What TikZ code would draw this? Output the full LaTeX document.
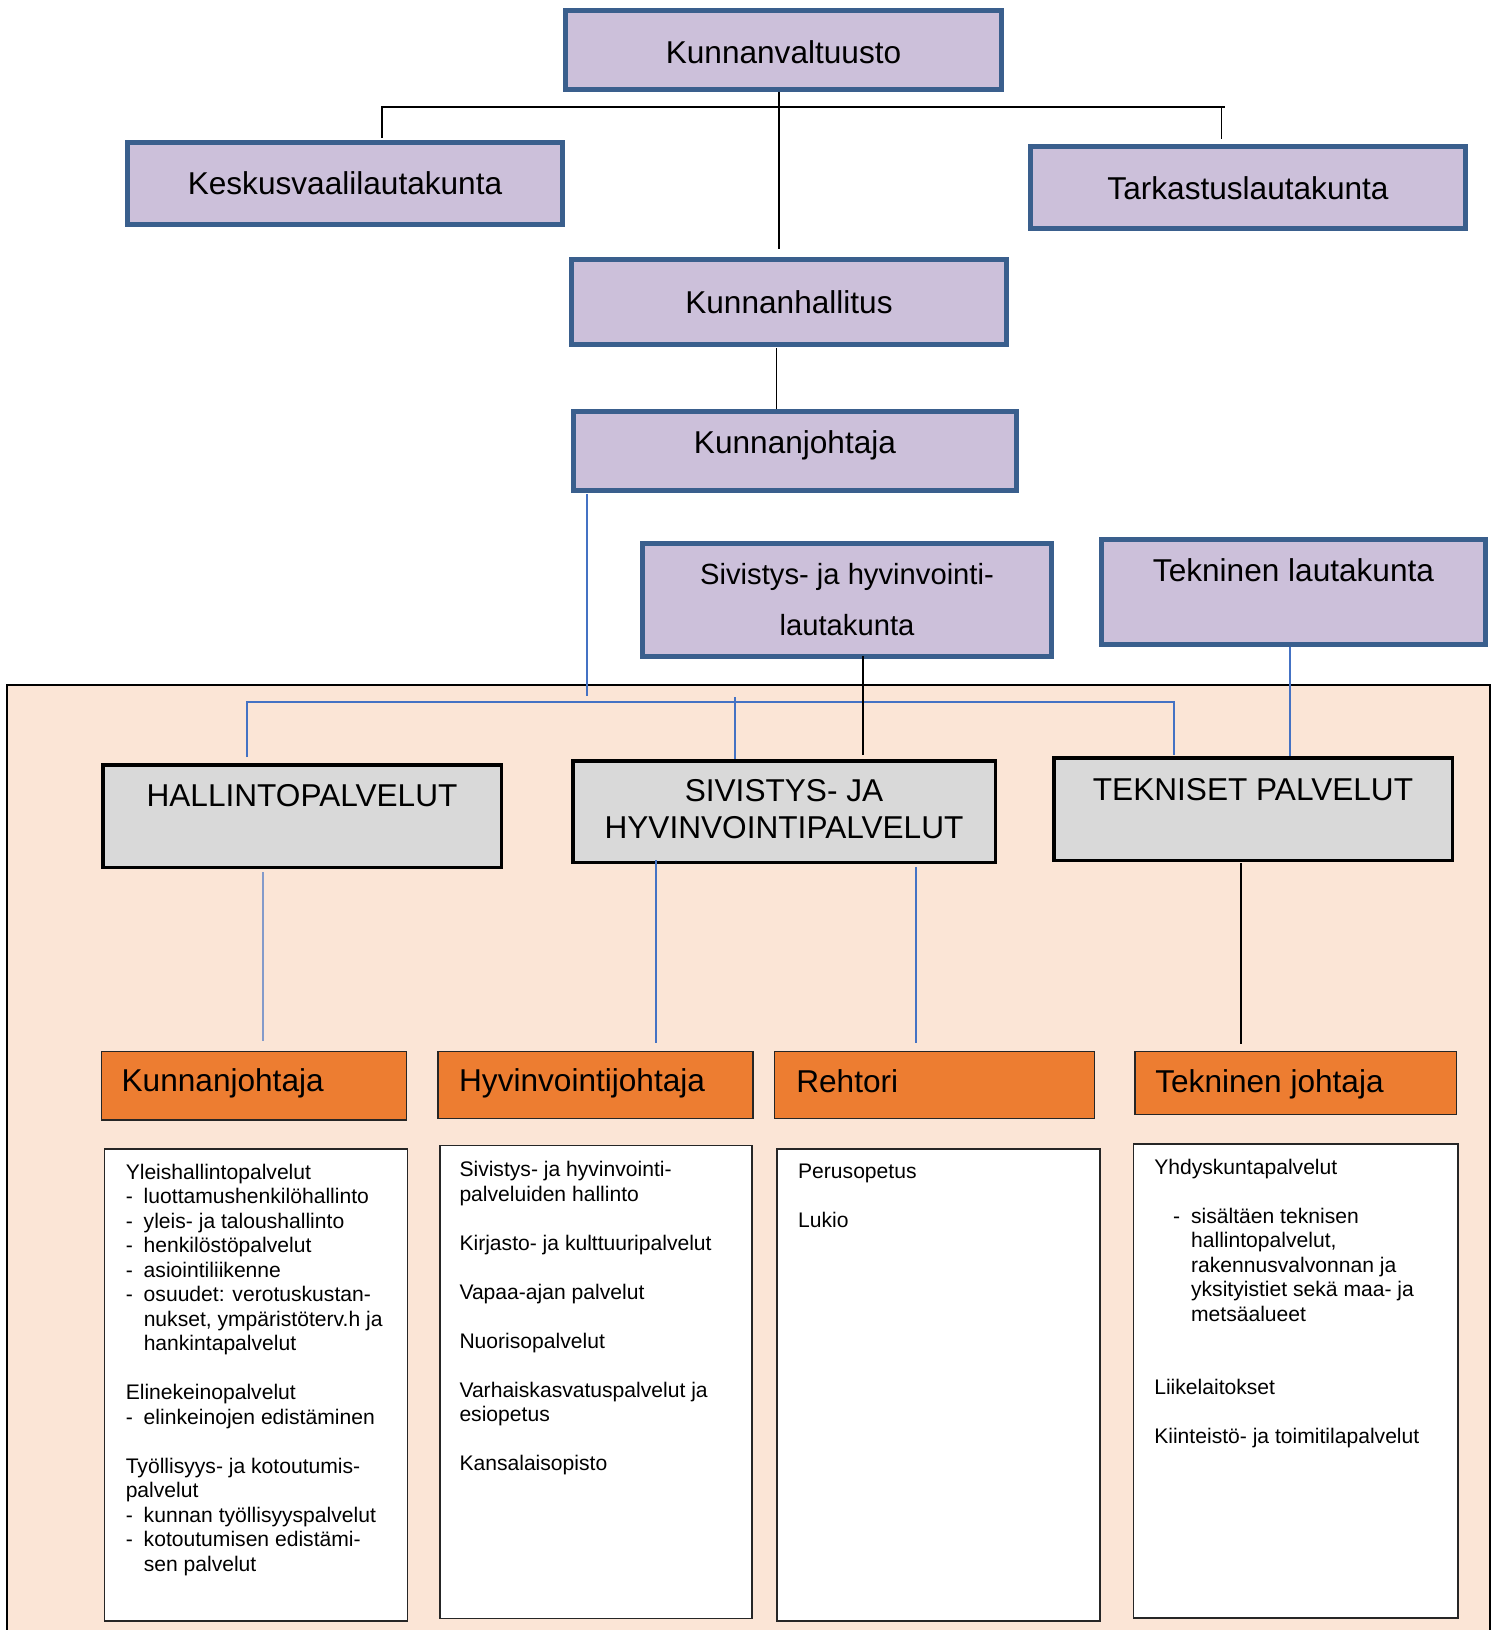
\documentclass[tikz,border=0pt]{standalone}
\usepackage{fontspec}
\setmainfont{Liberation Sans}
\usetikzlibrary{calc}
\definecolor{purp}{HTML}{CCC0DA}
\definecolor{purpb}{HTML}{3A5F8D}
\definecolor{grayf}{HTML}{D9D9D9}
\definecolor{orng}{HTML}{ED7D31}
\definecolor{peach}{HTML}{FBE5D6}
\definecolor{lblue}{HTML}{4472C4}
\newcommand\bigfont{\fontsize{15.8}{18}\selectfont}
\newcommand\smallfont{\fontsize{10.55}{12.25}\selectfont}
\newcommand\ditem{\makebox[9pt][l]{-}}
\newcommand\dcont{\hspace*{9pt}}
\newcommand\blankline{\\[12.25pt]}
\begin{document}
\begin{tikzpicture}[x=0.5pt,y=-0.5pt,
  pbox/.style={draw=purpb, line width=2.5pt, fill=purp, inner sep=0pt},
  gbox/.style={draw=black, line width=1.75pt, fill=grayf, inner sep=0pt},
  obox/.style={draw=black!85, line width=0.75pt, fill=orng, inner sep=0pt},
  wbox/.style={draw=black!85, line width=0.75pt, fill=white, inner sep=0pt},
  bigtxt/.style={inner sep=0pt, font=\bigfont, anchor=base},
  listtxt/.style={inner sep=0pt, anchor=base west},
  kline/.style={draw=black, line width=0.6pt},
  bline/.style={draw=lblue, line width=0.6pt}]
\useasboundingbox (0,0) rectangle (1499,1630);
\fill[white] (0,0) rectangle (1499,1630);
% peach background
\filldraw[fill=peach, draw=black, line width=0.6pt] (7,685) rectangle (1490,1645);

% purple boxes
\node[pbox, minimum width=218pt, minimum height=39.2pt] (kv) at (783.5,50) {};
\node[pbox, minimum width=217.5pt, minimum height=41pt] (kesk) at (345,183.5) {};
\node[pbox, minimum width=217.5pt, minimum height=41pt] (tark) at (1248,187.5) {};
\node[pbox, minimum width=217.5pt, minimum height=42.5pt] (kh) at (789,302) {};
\node[pbox, minimum width=221.5pt, minimum height=39.5pt] (kj) at (795,451) {};
\node[pbox, minimum width=204.5pt, minimum height=56.5pt] (sivl) at (847,600) {};
\node[pbox, minimum width=192pt, minimum height=52.5pt] (tekl) at (1293.5,592) {};

\node[bigtxt] (kvt) at ($(kv.center)+(0,13.3)$) {Kunnanvaltuusto};
\node[bigtxt] (keskt) at ($(kesk.center)+(0,10.8)$) {Keskusvaalilautakunta};
\node[bigtxt] (tarkt) at ($(tark.center)+(0,11.5)$) {Tarkastuslautakunta};
\node[bigtxt] (kht) at ($(kh.center)+(0,11.3)$) {Kunnanhallitus};
\node[bigtxt] (kjt) at ($(kj.center)+(0,2.3)$) {Kunnanjohtaja};
\node[inner sep=0pt, anchor=base] (sivlt) at ($(sivl.center)+(0,-16)$)
  {\parbox[t]{200pt}{\centering\fontsize{14.6}{25.5}\selectfont Sivistys- ja hyvinvointi-\\lautakunta}};
\node[bigtxt] (teklt) at ($(tekl.center)+(0,-11)$) {Tekninen lautakunta};

% gray boxes
\node[gbox, minimum width=199.25pt, minimum height=51.25pt] (hal) at (302,816) {};
\node[gbox, minimum width=211.25pt, minimum height=50.75pt] (siv) at (784,811.5) {};
\node[gbox, minimum width=199.25pt, minimum height=51.25pt] (tek) at (1253,809) {};
\node[bigtxt] (halt) at ($(hal.center)+(0,-10)$) {HALLINTOPALVELUT};
\node[inner sep=0pt, anchor=base] (sivt) at ($(siv.center)+(0,-10)$)
  {\parbox[t]{205pt}{\centering\fontsize{15.8}{18.55}\selectfont SIVISTYS- JA\\HYVINVOINTIPALVELUT}};
\node[bigtxt] (tekt) at ($(tek.center)+(0,-9)$) {TEKNISET PALVELUT};

% orange boxes
\node[obox, minimum width=152.5pt, minimum height=34.25pt] (o1) at (254.2,1085.9) {};
\node[obox, minimum width=157.5pt, minimum height=33.5pt] (o2) at (595.6,1085.2) {};
\node[obox, minimum width=160pt, minimum height=33.5pt] (o3) at (934.7,1085.2) {};
\node[obox, minimum width=160.75pt, minimum height=31.5pt] (o4) at (1295.5,1083.2) {};
\node[bigtxt, anchor=base west] (o1t) at ($(o1.west)+(20.3,5.8)$) {Kunnanjohtaja};
\node[bigtxt, anchor=base west] (o2t) at ($(o2.west)+(21.4,6.5)$) {Hyvinvointijohtaja};
\node[bigtxt, anchor=base west] (o3t) at ($(o3.west)+(22,7.1)$) {Rehtori};
\node[bigtxt, anchor=base west] (o4t) at ($(o4.west)+(20.9,9.1)$) {Tekninen johtaja};

% white boxes
\node[wbox, minimum width=151.5pt, minimum height=236pt] (w1) at (256.2,1385) {};
\node[wbox, minimum width=156pt, minimum height=236.5pt] (w2) at (595.85,1382.15) {};
\node[wbox, minimum width=161.5pt, minimum height=236pt] (w3) at (938.7,1385) {};
\node[wbox, minimum width=162.25pt, minimum height=237pt] (w4) at (1295.6,1381.2) {};

\node[listtxt] (w1t) at ($(w1.north west)+(21.4,31)$) {\parbox[t]{200pt}{\smallfont
Yleishallintopalvelut\\
\ditem luottamushenkilöhallinto\\
\ditem yleis- ja taloushallinto\\
\ditem henkilöstöpalvelut\\
\ditem asiointiliikenne\\
\ditem osuudet: verotuskustan-\\
\dcont nukset, ympäristöterv.h ja\\
\dcont hankintapalvelut\blankline
Elinekeinopalvelut\\
\ditem elinkeinojen edistäminen\blankline
Työllisyys- ja kotoutumis-\\
palvelut\\
\ditem kunnan työllisyyspalvelut\\
\ditem kotoutumisen edistämi-\\
\dcont sen palvelut}};

\node[listtxt] (w2t) at ($(w2.north west)+(20,31.7)$) {\parbox[t]{200pt}{\smallfont
Sivistys- ja hyvinvointi-\\
palveluiden hallinto\blankline
Kirjasto- ja kulttuuripalvelut\blankline
Vapaa-ajan palvelut\blankline
Nuorisopalvelut\blankline
Varhaiskasvatuspalvelut ja\\
esiopetus\blankline
Kansalaisopisto}};

\node[listtxt] (w3t) at ($(w3.north west)+(21.3,30.7)$) {\parbox[t]{200pt}{\smallfont
Perusopetus\blankline
Lukio}};

\node[listtxt] (w4t) at ($(w4.north west)+(21.3,30.7)$) {\parbox[t]{200pt}{\smallfont
Yhdyskuntapalvelut\blankline
\hspace*{9.4pt}\ditem sisältäen teknisen\\
\hspace*{18.4pt}hallintopalvelut,\\
\hspace*{18.4pt}rakennusvalvonnan ja\\
\hspace*{18.4pt}yksityistiet sekä maa- ja\\
\hspace*{18.4pt}metsäalueet\\[24.5pt]
Liikelaitokset\blankline
Kiinteistö- ja toimitilapalvelut}};

% connectors, top part (black)
\draw[kline] ($(kv.south)+(-4.5,0)$) -- ++(0,157.6);
\draw[kline, line width=1pt] ($(kesk.north)+(37.4,-2)$) |- ($(tark.north)+(-23.3,-36.7)$);
\draw[kline] ($(tark.north)+(-26.2,-36.7)$) -- ($(tark.north)+(-26.2,-4.7)$);
\draw[kline] ($(kh.south)+(-12.7,1)$) -- ($(kj.north)+(-18.7,-0.3)$);

% connectors into the service area
\draw[bline] ($(kj.south)+(-208,1)$) -- ++(0,202);
\draw[bline] ($(hal.north)+(-55,-6)$) |- ($(tek.north)+(-79,-54)$) -- ($(tek.north)+(-79,-1)$);
\draw[bline] ($(siv.north)+(-49,-62)$) -- ($(siv.north)+(-49,0)$);
\draw[kline] ($(sivl.south)+(16,-3)$) -- ($(siv.north)+(79,-4)$);
\draw[bline] ($(tekl.south)+(-3.5,0)$) -- ($(tek.north)+(37,0)$);

% connectors down to the directors
\draw[bline] ($(hal.south)+(-39,3)$) -- ($(o1.north)+(8.8,-10)$);
\draw[bline] ($(siv.south)+(-128,-4)$) -- ($(o2.north)+(60.4,-8)$);
\draw[bline] ($(siv.south)+(132,3)$) -- ($(o3.north)+(-18.7,-8)$);
\draw[kline] ($(tek.south)+(-12,1)$) -- ($(o4.north)+(-54.5,-7)$);
\end{tikzpicture}
\end{document}
